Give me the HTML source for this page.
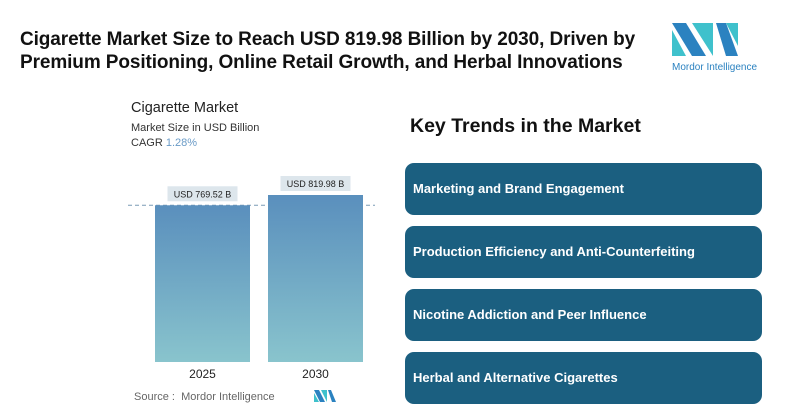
<!DOCTYPE html>
<html><head><meta charset="utf-8">
<style>
body{margin:0;width:800px;height:408px;background:#fff;font-family:"Liberation Sans",sans-serif;position:relative;overflow:hidden}
.title{position:absolute;left:20px;top:28px;font-size:19px;font-weight:bold;line-height:23px;color:#111;letter-spacing:-0.1px}
.box{position:absolute;left:405px;width:357px;height:52px;background:#1b5f80;border-radius:9px;color:#fff;font-weight:bold;font-size:13px;line-height:52px;padding-left:8px;box-sizing:border-box}
</style></head><body>
<div class="title">Cigarette Market Size to Reach USD 819.98 Billion by 2030, Driven by<br>Premium Positioning, Online Retail Growth, and Herbal Innovations</div>
<svg style="position:absolute;left:668px;top:20px" width="120" height="56">
<polygon points="4,3 18,3 38,36 24,36" fill="#2b82c0"/><polygon points="4,10 4,36 18,36" fill="#3fc1cc"/>
<polygon points="24,3 45,3 45,36" fill="#3fc1cc"/><polygon points="48,3 58,3 70,36 58,36" fill="#2b82c0"/><polygon points="58,3 70,3 70,26" fill="#3fc1cc"/>
<text x="4" y="50" font-size="10" fill="#2b82c0" font-family="Liberation Sans">Mordor Intelligence</text></svg>
<div style="position:absolute;left:131px;top:100px;font-size:14.5px;color:#222">Cigarette Market</div>
<div style="position:absolute;left:131px;top:122px;font-size:11px;color:#333">Market Size in USD Billion</div>
<div style="position:absolute;left:131px;top:137px;font-size:11px;color:#333">CAGR <span style="color:#6a9bc7">1.28%</span></div>
<svg id="chart" style="position:absolute;left:0;top:0" width="400" height="408">
<defs><linearGradient id="g" x1="0" y1="0" x2="0" y2="1"><stop offset="0" stop-color="#5a8fbd"/><stop offset="1" stop-color="#89c4cd"/></linearGradient></defs>
<line id="ref" x1="128" x2="375" stroke="#7a9bb5" stroke-dasharray="4,3" stroke-width="1"/>
</svg>
<div style="position:absolute;left:134px;top:391px;font-size:11px;color:#666">Source :&nbsp; Mordor Intelligence</div>
<svg style="position:absolute;left:314px;top:390px" width="22" height="12"><polygon points="0,0 5,0 11,12 6,12" fill="#2b82c0"/><polygon points="0,3 0,12 5,12" fill="#3fc1cc"/><polygon points="7,0 13,0 13,12" fill="#3fc1cc"/><polygon points="14,0 17,0 22,12 18,12" fill="#2b82c0"/></svg>
<div style="position:absolute;left:410px;top:115px;font-size:19.5px;font-weight:bold;color:#111">Key Trends in the Market</div>
<div class="box" style="top:163px">Marketing and Brand Engagement</div>
<div class="box" style="top:226px">Production Efficiency and Anti-Counterfeiting</div>
<div class="box" style="top:289px">Nicotine Addiction and Peer Influence</div>
<div class="box" style="top:352px">Herbal and Alternative Cigarettes</div>
<script>
const categories=["2025","2030"];
const values=[769.52,819.98];
const valueLabels=["USD 769.52 B","USD 819.98 B"];
const svg=document.getElementById('chart');
const NS="http://www.w3.org/2000/svg";
const baseY=362, pxPerUnit=167/819.98;
const y=v=>baseY-v*pxPerUnit;
const x=i=>155+i*113;
const bw=95;
document.getElementById('ref').setAttribute('y1',y(values[0]));
document.getElementById('ref').setAttribute('y2',y(values[0]));
categories.forEach((c,i)=>{
 const r=document.createElementNS(NS,'rect');
 
 
 r.setAttribute('x',x(i));r.setAttribute('y',y(values[i]));r.setAttribute('width',bw);r.setAttribute('height',baseY-y(values[i]));r.setAttribute('fill','url(#g)');
 svg.appendChild(r);
 const lb=document.createElementNS(NS,'rect');
 
 
 lb.setAttribute('x',x(i)+bw/2-35);lb.setAttribute('y',y(values[i])-19);lb.setAttribute('width',70);lb.setAttribute('height',15);lb.setAttribute('fill','#dde6ec');
 svg.appendChild(lb);
 const t=document.createElementNS(NS,'text');
 
 
 t.setAttribute('x',x(i)+bw/2);t.setAttribute('y',y(values[i])-8);t.setAttribute('text-anchor','middle');t.setAttribute('font-size','9');t.setAttribute('fill','#222');t.setAttribute('font-family','Liberation Sans');
 t.textContent=valueLabels[i];svg.appendChild(t);
 const a=document.createElementNS(NS,'text');
 
 
 a.setAttribute('x',x(i)+bw/2);a.setAttribute('y',378);a.setAttribute('text-anchor','middle');a.setAttribute('font-size','12');a.setAttribute('fill','#222');a.setAttribute('font-family','Liberation Sans');
 a.textContent=c;svg.appendChild(a);
});
</script>
</body></html>
